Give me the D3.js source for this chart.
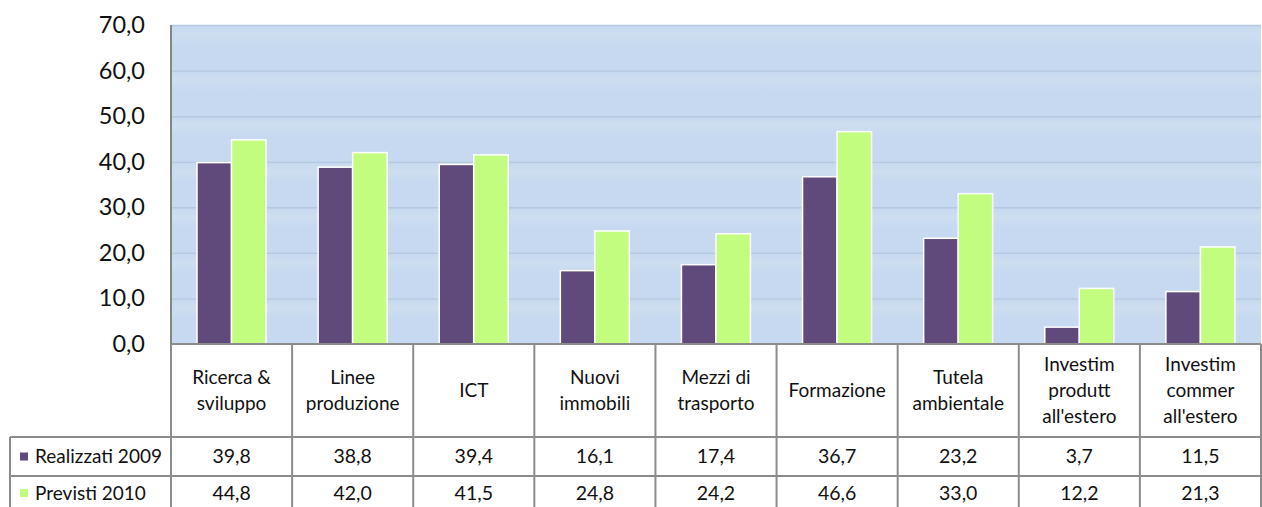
<!DOCTYPE html>
<html>
<head>
<meta charset="utf-8">
<script src="https://cdn.jsdelivr.net/npm/d3@7"></script>
<style>
  body { margin: 0; background: #fff; }
  svg { display: block; font-family: Lato, "Noto Sans", sans-serif; }
</style>
</head>
<body>
<svg id="chart" width="1262" height="507"></svg>
<script>
// categories (multi-line labels as in the table header)
const categories = [
  ['Ricerca &', 'sviluppo'],
  ['Linee', 'produzione'],
  ['ICT'],
  ['Nuovi', 'immobili'],
  ['Mezzi di', 'trasporto'],
  ['Formazione'],
  ['Tutela', 'ambientale'],
  ['Investim', 'produtt', "all'estero"],
  ['Investim', 'commer', "all'estero"]
];
const seriesNames = ['Realizzati 2009', 'Previsti 2010'];
const realizzati2009 = [39.8, 38.8, 39.4, 16.1, 17.4, 36.7, 23.2, 3.7, 11.5];
const previsti2010 = [44.8, 42.0, 41.5, 24.8, 24.2, 46.6, 33.0, 12.2, 21.3];
const yTicks = [0, 10, 20, 30, 40, 50, 60, 70];

const colors = ['#604a7b', '#c3fd7f'];
const series = [realizzati2009, previsti2010];

const svg = d3.select('#chart');
const plot = {left: 171, right: 1261, top: 25, bottom: 344};
const fmt = v => d3.format('.1f')(v).replace('.', ',');

const catKeys = categories.map((c, i) => i);
const x = d3.scaleBand().domain(catKeys).range([plot.left, plot.right]).padding(0);
const x1 = d3.scaleBand().domain(d3.range(seriesNames.length)).range([26, 95]).padding(0);
const y = d3.scaleLinear().domain([0, 70]).range([plot.bottom, plot.top]);

// band background with subtle light strip under each gridline
const band = y(60) - y(70);
const defs = svg.append('defs');
const grad = defs.append('linearGradient').attr('id', 'bandGrad')
    .attr('x1', 0).attr('y1', 0).attr('x2', 0).attr('y2', 1);
grad.append('stop').attr('offset', '0%').attr('stop-color', '#c5d8ef');
grad.append('stop').attr('offset', '20%').attr('stop-color', '#cedef0');
grad.append('stop').attr('offset', '45%').attr('stop-color', '#c6d9f0');
grad.append('stop').attr('offset', '100%').attr('stop-color', '#c6d9f0');

svg.append('g').selectAll('rect')
  .data(yTicks.slice(1))
  .join('rect')
    .attr('x', plot.left)
    .attr('y', d => y(d))
    .attr('width', plot.right - plot.left)
    .attr('height', band)
    .attr('fill', 'url(#bandGrad)');

// gridlines
svg.append('g').selectAll('line')
  .data(yTicks.slice(1))
  .join('line')
    .attr('x1', plot.left).attr('x2', plot.right)
    .attr('y1', d => y(d) + 0.5).attr('y2', d => y(d) + 0.5)
    .attr('stroke', '#b4c8e2').attr('stroke-width', 1.5);

// y axis labels
const yAxis = d3.axisLeft(y).tickValues(yTicks).tickFormat(fmt).tickSize(0).tickPadding(26);
const yAxisG = svg.append('g')
    .attr('transform', `translate(${plot.left},0)`)
    .call(yAxis);
yAxisG.select('.domain').remove();
yAxisG.selectAll('text')
    .attr('font-family', 'Lato, "Noto Sans", sans-serif')
    .attr('font-size', 23.5)
    .attr('fill', '#111');

// bars
const groups = svg.append('g').selectAll('g')
  .data(catKeys)
  .join('g')
    .attr('transform', d => `translate(${x(d)},0)`);

groups.selectAll('rect')
  .data(i => series.map((s, k) => ({k, v: s[i]})))
  .join('rect')
    .attr('x', d => x1(d.k))
    .attr('y', d => y(d.v))
    .attr('width', x1.bandwidth())
    .attr('height', d => y(0) - y(d.v))
    .attr('fill', d => colors[d.k])
    .attr('stroke', '#fff')
    .attr('stroke-width', 1.5);

// left axis line
svg.append('line')
    .attr('x1', plot.left).attr('x2', plot.left)
    .attr('y1', plot.top).attr('y2', plot.bottom)
    .attr('stroke', '#868686').attr('stroke-width', 2);

// data table
const table = {headerBottom: 437, row1Bottom: 476, row2Bottom: 515, labelLeft: 10};
const border = '#8c8c8c';
const tg = svg.append('g');

tg.append('rect')
    .attr('x', plot.left).attr('y', plot.bottom)
    .attr('width', plot.right - plot.left).attr('height', table.row2Bottom - plot.bottom)
    .attr('fill', '#fff');

// horizontal lines
tg.append('line').attr('x1', plot.left).attr('x2', plot.right)
    .attr('y1', plot.bottom).attr('y2', plot.bottom);
[table.headerBottom, table.row1Bottom].forEach(yy => {
  tg.append('line').attr('x1', table.labelLeft).attr('x2', plot.right)
      .attr('y1', yy).attr('y2', yy);
});
// vertical lines
catKeys.concat([categories.length]).forEach(i => {
  const xx = i < categories.length ? x(i) : plot.right;
  tg.append('line').attr('x1', xx).attr('x2', xx)
      .attr('y1', plot.bottom).attr('y2', table.row2Bottom);
});
tg.append('line').attr('x1', table.labelLeft).attr('x2', table.labelLeft)
    .attr('y1', table.headerBottom).attr('y2', table.row2Bottom);
tg.selectAll('line').attr('stroke', border).attr('stroke-width', 2);

// header labels
const headerMid = (plot.bottom + table.headerBottom) / 2;
const lineH = 26;
tg.append('g').selectAll('text')
  .data(catKeys)
  .join('text')
    .attr('x', d => x(d) + x.bandwidth() / 2)
    .attr('text-anchor', 'middle')
    .attr('font-size', 19)
    .attr('fill', '#111')
    .each(function(d) {
      const lines = categories[d];
      const y0 = headerMid - (lines.length - 1) * lineH / 2;
      d3.select(this).selectAll('tspan')
        .data(lines)
        .join('tspan')
          .attr('x', x(d) + x.bandwidth() / 2)
          .attr('y', (l, j) => y0 + j * lineH)
          .attr('dy', '0.35em')
          .text(l => l);
    });

// value rows
const rowMids = [(table.headerBottom + table.row1Bottom) / 2, 493];
series.forEach((s, k) => {
  tg.append('rect')
      .attr('x', 20).attr('y', rowMids[k] - 4)
      .attr('width', 8).attr('height', 8)
      .attr('fill', colors[k]);
  tg.append('text')
      .attr('x', 35).attr('y', rowMids[k]).attr('dy', '0.35em')
      .attr('font-size', 19).attr('fill', '#111')
      .text(seriesNames[k]);
  tg.append('g').selectAll('text')
    .data(s)
    .join('text')
      .attr('x', (v, i) => x(i) + x.bandwidth() / 2)
      .attr('y', rowMids[k]).attr('dy', '0.35em')
      .attr('text-anchor', 'middle')
      .attr('font-size', 19.5).attr('fill', '#111')
      .text(v => fmt(v));
});
</script>
</body>
</html>
